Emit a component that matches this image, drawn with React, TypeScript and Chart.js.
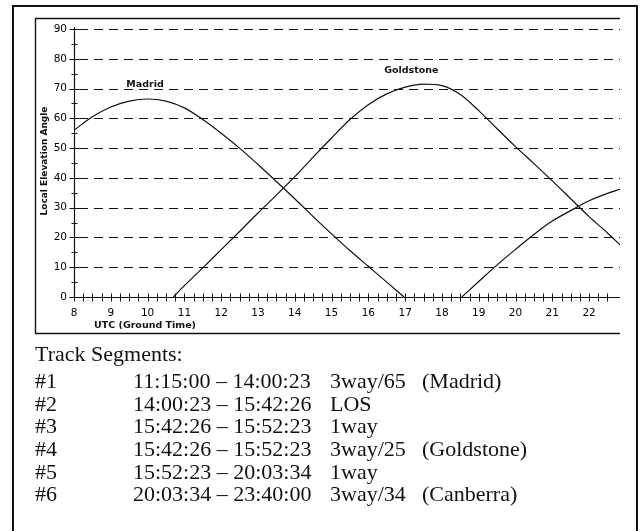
import React, { useEffect, useRef } from "react";
import { Chart, registerables } from "chart.js";

Chart.register(...registerables);

// ---- Data ----
const madridHours = [8, 8.5, 9, 9.5, 10, 10.5, 11, 11.5, 12, 12.5, 13, 13.5, 14, 14.5, 15, 15.5, 16, 16.5, 16.97];
const madridElev = [56, 60.5, 63.8, 65.8, 66.5, 65.8, 63.5, 59.6, 55, 50, 44.5, 38.8, 33, 27, 21.2, 15.6, 10.3, 5, 0];

const goldstoneHours = [10.7, 11, 11.5, 12, 12.5, 13, 13.5, 14, 14.5, 15, 15.5, 16, 16.5, 17, 17.5, 18, 18.5, 19, 19.5, 20, 20.5, 21, 21.5, 22, 22.5, 22.84];
const goldstoneElev = [0, 3.8, 9.8, 15.9, 22, 28.2, 34.2, 40.4, 47, 53.4, 59.6, 64.6, 68.2, 70.5, 71.5, 71, 68, 62.6, 56.5, 50.5, 44.8, 39, 33, 27, 21.5, 17.5];

const canberraHours = [18.54, 19, 19.5, 20, 20.5, 21, 21.5, 22, 22.5, 22.84];
const canberraElev = [0, 5.2, 10.8, 16, 21, 25.5, 29, 32.3, 34.8, 36.2];

const hourLabels = [8, 9, 10, 11, 12, 13, 14, 15, 16, 17, 18, 19, 20, 21, 22];
const elevationLabels = [0, 10, 20, 30, 40, 50, 60, 70, 80, 90];
const hourMin = 8;
const hourMax = 22.84;
const elevMax = 90;

const stationNames = ["Madrid", "Goldstone"];
const stationNameHours = [9.93, 17.17];
const stationNameElev = [71.3, 76.2];

const xTitle = "UTC (Ground Time)";
const yTitle = "Local Elevation Angle";

const segmentHeading = "Track Segments:";
const segmentIds = ["#1", "#2", "#3", "#4", "#5", "#6"];
const segmentTimes = [
  "11:15:00 – 14:00:23",
  "14:00:23 – 15:42:26",
  "15:42:26 – 15:52:23",
  "15:42:26 – 15:52:23",
  "15:52:23 – 20:03:34",
  "20:03:34 – 23:40:00",
];
const segmentModes = ["3way/65", "LOS", "1way", "3way/25", "1way", "3way/34"];
const segmentStations = ["(Madrid)", "", "", "(Goldstone)", "", "(Canberra)"];

const toPoints = (xs: number[], ys: number[]) => xs.map((x, i) => ({ x, y: ys[i] }));

const INK = "#111";

const decorPlugin = {
  id: "decor",
  beforeDatasetsDraw(chart: any) {
    const { ctx, chartArea, scales } = chart;
    const y = scales.y;
    ctx.save();
    // outer frame
    ctx.strokeStyle = INK;
    ctx.lineWidth = 2;
    ctx.beginPath();
    ctx.moveTo(13, 560);
    ctx.lineTo(13, 6);
    ctx.lineTo(637, 6);
    ctx.lineTo(637, 560);
    ctx.stroke();
    // inner frame
    ctx.lineWidth = 1.4;
    ctx.beginPath();
    ctx.moveTo(620, 18.5);
    ctx.lineTo(35.5, 18.5);
    ctx.lineTo(35.5, 333.5);
    ctx.lineTo(620, 333.5);
    ctx.stroke();
    // dashed gridlines
    ctx.lineWidth = 1.1;
    ctx.setLineDash([9, 6]);
    y.ticks.forEach((t: any) => {
      if (t.value > 0 && t.value % 10 === 0) {
        const py = Math.round(y.getPixelForValue(t.value)) + 0.5;
        ctx.beginPath();
        ctx.moveTo(chartArea.left + 5, py);
        ctx.lineTo(chartArea.right, py);
        ctx.stroke();
      }
    });
    ctx.setLineDash([]);
    ctx.restore();
  },
  afterDatasetsDraw(chart: any) {
    const { ctx, chartArea, scales } = chart;
    const x = scales.x;
    const y = scales.y;
    ctx.save();
    ctx.strokeStyle = INK;
    ctx.lineWidth = 1.2;
    const ax = Math.round(chartArea.left) + 0.5;
    const ay = Math.round(chartArea.bottom) + 0.5;
    // y axis line
    ctx.beginPath();
    ctx.moveTo(ax, y.getPixelForValue(elevMax) - 2);
    ctx.lineTo(ax, ay);
    ctx.stroke();
    // x axis line
    ctx.beginPath();
    ctx.moveTo(ax, ay);
    ctx.lineTo(chartArea.right, ay);
    ctx.stroke();
    ctx.lineWidth = 1;
    // y tick crosses
    y.ticks.forEach((t: any) => {
      const py = Math.round(y.getPixelForValue(t.value)) + 0.5;
      const major = t.value % 10 === 0;
      ctx.beginPath();
      ctx.moveTo(ax - (major ? 5 : 3), py);
      ctx.lineTo(ax + (major ? 5 : 3), py);
      ctx.stroke();
    });
    // x tick crosses
    x.ticks.forEach((t: any) => {
      if (t.value > hourMax - 0.1) return;
      const px = Math.round(x.getPixelForValue(t.value)) + 0.5;
      ctx.beginPath();
      ctx.moveTo(px, ay - 4);
      ctx.lineTo(px, ay + 4);
      ctx.stroke();
    });
    ctx.restore();
  },
  afterDraw(chart: any) {
    const { ctx, scales } = chart;
    const x = scales.x;
    const y = scales.y;
    ctx.save();
    ctx.fillStyle = INK;
    ctx.textBaseline = "middle";
    // axis titles
    ctx.font = "bold 9.5px 'DejaVu Sans'";
    ctx.textAlign = "center";
    ctx.fillText(xTitle, 145, 326);
    ctx.save();
    ctx.translate(45, 161);
    ctx.rotate(-Math.PI / 2);
    ctx.font = "bold 9px 'DejaVu Sans'";
    ctx.fillText(yTitle, 0, 0);
    ctx.restore();
    // station labels
    ctx.font = "bold 9.5px 'DejaVu Sans'";
    stationNames.forEach((name, i) => {
      ctx.fillText(name, x.getPixelForValue(stationNameHours[i]), y.getPixelForValue(stationNameElev[i]));
    });
    ctx.restore();
  },
};

export default function App() {
  const canvasRef = useRef<HTMLCanvasElement | null>(null);

  useEffect(() => {
    if (!canvasRef.current) return;
    const lineStyle = {
      borderColor: INK,
      borderWidth: 1.2,
      pointRadius: 0,
      fill: false,
      cubicInterpolationMode: "monotone" as const,
    };
    const chart = new Chart(canvasRef.current, {
      type: "line",
      data: {
        datasets: [
          { label: "Madrid", data: toPoints(madridHours, madridElev), ...lineStyle },
          { label: "Goldstone", data: toPoints(goldstoneHours, goldstoneElev), ...lineStyle },
          { label: "Canberra", data: toPoints(canberraHours, canberraElev), ...lineStyle },
        ],
      },
      options: {
        animation: false,
        responsive: false,
        devicePixelRatio: 1,
        layout: { padding: { left: 0, top: 29, right: 24, bottom: 194 } },
        plugins: { legend: { display: false }, tooltip: { enabled: false } },
        scales: {
          x: {
            type: "linear",
            min: hourMin,
            max: hourMax,
            afterFit: (s: any) => {
              s.height = 40;
            },
            grid: { display: false, drawTicks: false },
            border: { display: false },
            ticks: {
              stepSize: 0.25,
              maxTicksLimit: 200,
              autoSkip: false,
              maxRotation: 0,
              padding: 10,
              color: "#000",
              font: { family: "'DejaVu Sans'", size: 10.5 },
              callback: (v: any) => (hourLabels.includes(Number(v)) ? String(v) : ""),
            },
          },
          y: {
            type: "linear",
            min: 0,
            max: elevMax,
            afterFit: (s: any) => {
              s.width = 74;
            },
            grid: { display: false, drawTicks: false },
            border: { display: false },
            ticks: {
              stepSize: 5,
              maxTicksLimit: 100,
              autoSkip: false,
              padding: 7,
              color: "#000",
              font: { family: "'DejaVu Sans'", size: 10.5 },
              callback: (v: any) => (elevationLabels.includes(Number(v)) ? String(v) : ""),
            },
          },
        },
      },
      plugins: [decorPlugin],
    });
    return () => chart.destroy();
  }, []);

  const serif: React.CSSProperties = {
    position: "absolute",
    fontFamily: "'Liberation Serif', 'Times New Roman', serif",
    fontSize: "22px",
    lineHeight: "22px",
    color: "#111",
    whiteSpace: "nowrap",
    margin: 0,
  };
  const rowTop = (i: number) => 369.9 + i * 22.7;

  return (
    <div style={{ position: "absolute", left: 0, top: 0, width: 644, height: 531, overflow: "hidden", background: "#fff" }}>
      <canvas ref={canvasRef} width={644} height={531} style={{ position: "absolute", left: 0, top: 0, display: "block" }} />
      <div style={{ ...serif, left: 35, top: 342.6 }}>{segmentHeading}</div>
      {segmentIds.map((id, i) => (
        <React.Fragment key={id}>
          <div style={{ ...serif, left: 35, top: rowTop(i) }}>{id}</div>
          <div style={{ ...serif, left: 133, top: rowTop(i) }}>{segmentTimes[i]}</div>
          <div style={{ ...serif, left: 330, top: rowTop(i) }}>{segmentModes[i]}</div>
          {segmentStations[i] ? (
            <div style={{ ...serif, left: 422, top: rowTop(i) }}>{segmentStations[i]}</div>
          ) : null}
        </React.Fragment>
      ))}
    </div>
  );
}
